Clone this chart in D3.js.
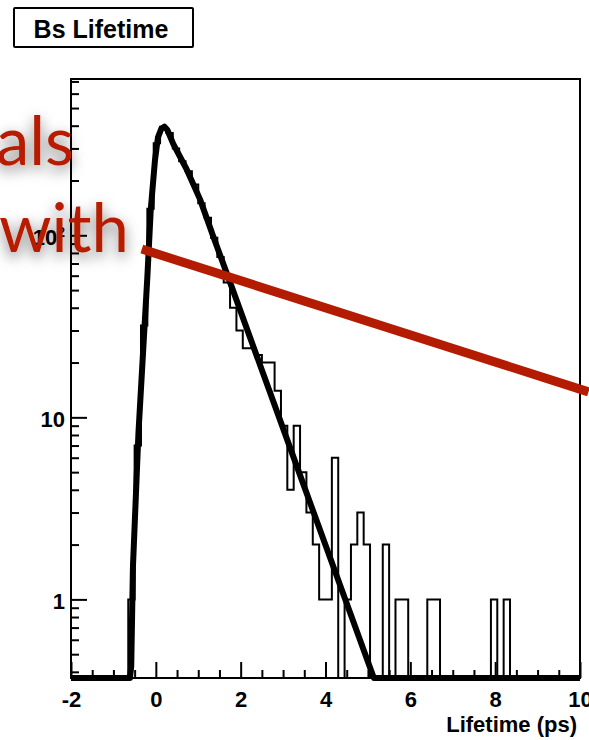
<!DOCTYPE html>
<html>
<head>
<meta charset="utf-8">
<script src="https://cdn.jsdelivr.net/npm/d3@7"></script>
<style>
  body { margin: 0; background: #fff; }
  svg { display: block; }
</style>
</head>
<body>
<script>
// Histogram contents: 80 bins of 0.15 ps starting at -2 ps
var binLow = -2
var binWidth = 0.15
var binCounts = [
    0, 0, 0, 0, 0, 0, 0, 0, 0,
    1, 7, 32, 140, 320, 395, 365, 300, 255, 225,
    190, 150, 125, 97, 76, 55, 40, 30, 24, 24,
    22, 20, 20, 14, 9, 4, 9, 5, 3, 2,
    1, 1, 6, 0, 1, 2, 3, 2, 0, 0,
    2, 0, 1, 1, 0, 0, 0, 1, 1, 0,
    0, 0, 0, 0, 0, 0, 0, 1, 0, 1,
    0, 0, 0, 0, 0, 0, 0, 0, 0, 0, 0
]

// Fit curve (values under the frame sit on the floor)
var fitX = [-2, -0.61, -0.58, -0.54, -0.41, -0.30, -0.20, -0.12, -0.02, 0.05, 0.13, 0.20, 0.27, 0.41, 0.72, 1.04, 1.35, 1.74, 2.53, 3.31, 5.14, 10]
var fitY = [0.37, 0.37, 0.43, 1.5, 8.2, 23, 59, 138, 259, 345, 385, 395, 380, 318, 232, 158, 99, 56, 17.4, 5.5, 0.37, 0.37]

// Axis ticks
var xTicks = [-2, 0, 2, 4, 6, 8, 10]
var xMinorTicks = [-1.5, -1, -0.5, 0.5, 1, 1.5, 2.5, 3, 3.5, 4.5, 5, 5.5, 6.5, 7, 7.5, 8.5, 9, 9.5]
var yTicks = [1, 10, 100]
var yMinorTicks = [0.4, 0.5, 0.6, 0.7, 0.8, 0.9, 2, 3, 4, 5, 6, 7, 8, 9, 20, 30, 40, 50, 60, 70, 80, 90, 200, 300, 400, 500, 600, 700]

// Texts
var titleText = "Bs Lifetime"
var xTitle = "Lifetime (ps)"
var overlayWords = ["als", "with"]

// Red slash drawn over the plot (data units)
var slashX = [-0.33, 10.2]
var slashY = [84, 13.8]

function main() {
    var width = 589
    var height = 740
    var yMin = 0.37

    var svg = d3.select('body').append('svg')
        .attr('width', width)
        .attr('height', height)
        .style('background', '#fff')

    // Scales
    var x = d3.scaleLinear().domain([-2, 10]).range([71, 580])
    var y = d3.scaleLog().domain([yMin, 722]).range([678, 79])

    var labelFont = 'Liberation Sans, Arial, Helvetica, sans-serif'

    // Histogram outline
    var pts = binCounts.map(function (c, i) { return [binLow + i * binWidth, c] })
    pts.push([binLow + binCounts.length * binWidth, binCounts[binCounts.length - 1]])
    var histLine = d3.line()
        .x(function (d) { return x(d[0]) })
        .y(function (d) { return y(Math.max(d[1], yMin)) })
        .curve(d3.curveStepAfter)
    svg.append('path')
        .attr('d', histLine(pts))
        .attr('fill', 'none')
        .attr('stroke', '#000')
        .attr('stroke-width', 2)

    // Fit curve
    var fitLine = d3.line()
        .x(function (d, i) { return x(fitX[i]) })
        .y(function (d) { return y(Math.max(d, yMin)) })
    svg.append('path')
        .attr('d', fitLine(fitY))
        .attr('fill', 'none')
        .attr('stroke', '#000')
        .attr('stroke-width', 6)
        .attr('stroke-linejoin', 'round')

    // Frame
    svg.append('rect')
        .attr('x', 71).attr('y', 79)
        .attr('width', 509).attr('height', 599)
        .attr('fill', 'none')
        .attr('stroke', '#000')
        .attr('stroke-width', 2)

    // X axis, ticks pointing inside
    svg.append('g')
        .attr('transform', 'translate(0,678)')
        .call(d3.axisBottom(x).tickValues(xTicks).tickSize(-16).tickSizeOuter(0)
            .tickPadding(13).tickFormat(function (d) { return String(d) }))
    svg.append('g')
        .attr('transform', 'translate(0,678)')
        .call(d3.axisBottom(x).tickValues(xMinorTicks).tickSize(-8).tickSizeOuter(0).tickFormat(''))

    // Y axis
    var gy = svg.append('g')
        .attr('transform', 'translate(71,0)')
        .call(d3.axisLeft(y).tickValues(yTicks).tickSize(-16).tickSizeOuter(0)
            .tickPadding(6).tickFormat(function (d) { return d === 100 ? '' : String(d) }))
    svg.append('g')
        .attr('transform', 'translate(71,0)')
        .call(d3.axisLeft(y).tickValues(yMinorTicks).tickSize(-8).tickSizeOuter(0).tickFormat(''))

    svg.selectAll('.domain').remove()
    svg.selectAll('.tick line').attr('stroke', '#000').attr('stroke-width', 2)
    svg.selectAll('.tick text')
        .attr('fill', '#000')
        .style('font-family', labelFont)
        .style('font-weight', 'bold')
        .style('font-size', '22px')
    gy.selectAll('.tick text').attr('dy', '0.43em')

    // 10^2 label
    var t100 = gy.selectAll('.tick').filter(function (d) { return d === 100 }).select('text')
    t100.append('tspan').text('10')
    t100.append('tspan').attr('dy', '-8').style('font-size', '14px').text('2')

    // Axis title
    svg.append('text')
        .attr('x', 577).attr('y', 732)
        .attr('text-anchor', 'end')
        .style('font-family', labelFont)
        .style('font-weight', 'bold')
        .style('font-size', '22px')
        .text(xTitle)

    // Title box
    svg.append('rect')
        .attr('x', 14).attr('y', 8)
        .attr('width', 179).attr('height', 39)
        .attr('rx', 1)
        .attr('fill', '#fff')
        .attr('stroke', '#000')
        .attr('stroke-width', 2)
    svg.append('text')
        .attr('x', 101).attr('y', 37.5)
        .attr('text-anchor', 'middle')
        .style('font-family', labelFont)
        .style('font-weight', 'bold')
        .style('font-size', '25px')
        .text(titleText)

    // Red overlay: shadowed words and slash
    var defs = svg.append('defs')
    var f = defs.append('filter').attr('id', 'shade')
        .attr('x', '-30%').attr('y', '-40%').attr('width', '160%').attr('height', '180%')
    f.append('feDropShadow')
        .attr('dx', 0).attr('dy', 5)
        .attr('stdDeviation', 7)
        .attr('flood-color', '#000')
        .attr('flood-opacity', 0.55)

    svg.append('line')
        .attr('x1', x(slashX[0])).attr('y1', y(slashY[0]))
        .attr('x2', x(slashX[1])).attr('y2', y(slashY[1]))
        .attr('stroke', '#b41c02')
        .attr('stroke-width', 9)

    svg.selectAll('.word')
        .data(overlayWords)
        .enter().append('text')
        .attr('class', 'word')
        .attr('x', function (d, i) { return i === 0 ? 74 : 129 })
        .attr('y', function (d, i) { return i === 0 ? 165 : 252 })
        .attr('text-anchor', 'end')
        .attr('fill', '#b71e06')
        .attr('filter', 'url(#shade)')
        .style('font-family', 'Lato, sans-serif')
        .style('font-size', '67px')
        .text(function (d) { return d })
}
main()
</script>
</body>
</html>
